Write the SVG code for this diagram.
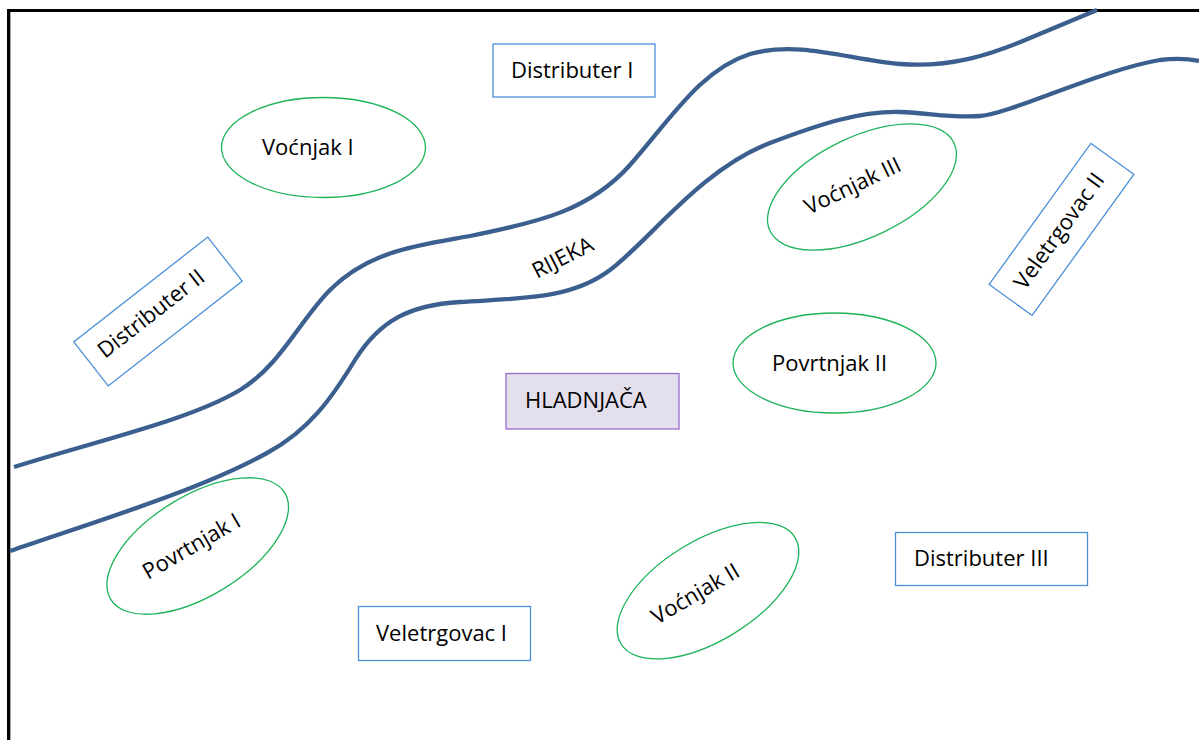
<svg xmlns="http://www.w3.org/2000/svg" width="1199" height="740" viewBox="0 0 1199 740">
<style>
text{font-family:"Open Sans","Liberation Sans",sans-serif;font-size:22px;fill:#000}
.box{fill:#fff;stroke:#4A90D9;stroke-width:1.3}
.ell{fill:none;stroke:#1DB35A;stroke-width:1.3}
.river{fill:none;stroke:#3B5F8E;stroke-width:4.3;stroke-linecap:butt}
</style>
<rect width="1199" height="740" fill="#fff"/>
<g id="frame">
<line x1="8.5" y1="9" x2="8.5" y2="740" stroke="#000" stroke-width="3"/>
<line x1="7" y1="10.5" x2="1199" y2="10.5" stroke="#000" stroke-width="3"/>
<line x1="10.5" y1="12" x2="10.5" y2="740" stroke="#aaa" stroke-width="1"/>
</g>
<g id="river">
<path class="river" d="M14,467 C100,440 190,420 240,390 C280,366 300,320 330,290 C370,250 420,245 470,236 C540,222 590,210 630,165 C670,120 700,70 750,54 C800,40 850,60 900,64 C950,68 990,55 1030,38 L1097,10"/>
<path class="river" d="M10,551 C100,520 200,490 267,453 C310,430 333,396 355,360 C380,320 410,305 460,302 C520,298 570,300 610,270 C650,240 700,170 770,143 C820,124 860,111 900,112 C930,113 950,118 980,116 C1010,114 1100,70 1160,60 C1175,58 1190,59 1199,61"/>
<text transform="translate(537,279) rotate(-27)">RIJEKA</text>
</g>
<g id="distributer-1">
<rect class="box" x="493" y="44" width="162" height="53"/>
<text x="511" y="78">Distributer I</text>
</g>
<g id="vocnjak-1">
<ellipse class="ell" cx="323.5" cy="147.5" rx="102" ry="50"/>
<text x="262" y="155">Voćnjak I</text>
</g>
<g id="distributer-2">
<rect class="box" x="-85" y="-28" width="170" height="56" transform="translate(158,311.5) rotate(-38)"/>
<text transform="translate(105,359) rotate(-38)">Distributer II</text>
</g>
<g id="vocnjak-3">
<ellipse class="ell" cx="0" cy="0" rx="102" ry="50" transform="translate(862,187) rotate(-25.6)"/>
<text transform="translate(809,215) rotate(-25.6)">Voćnjak III</text>
</g>
<g id="veletrgovac-2">
<rect class="box" x="-87" y="-26.5" width="174" height="53" transform="translate(1061.5,229.4) rotate(-54.2)"/>
<text transform="translate(1025,291) rotate(-54.2)">Veletrgovac II</text>
</g>
<g id="povrtnjak-2">
<ellipse class="ell" cx="834.5" cy="363" rx="101.5" ry="50"/>
<text x="772" y="371">Povrtnjak II</text>
</g>
<g id="hladnjaca">
<rect x="506" y="373.5" width="173" height="55.5" fill="#E4DFEC" stroke="#9A6CC8" stroke-width="1.3"/>
<text x="525" y="408">HLADNJAČA</text>
</g>
<g id="povrtnjak-1">
<ellipse class="ell" cx="0" cy="0" rx="102" ry="50" transform="translate(197.7,546) rotate(-31.5)"/>
<text transform="translate(148,580) rotate(-30)">Povrtnjak I</text>
</g>
<g id="vocnjak-2">
<ellipse class="ell" cx="0" cy="0" rx="102" ry="50" transform="translate(708,590.7) rotate(-31.5)"/>
<text transform="translate(657,625) rotate(-30.5)">Voćnjak II</text>
</g>
<g id="distributer-3">
<rect class="box" x="895.5" y="532.5" width="192" height="53"/>
<text x="914" y="566">Distributer III</text>
</g>
<g id="veletrgovac-1">
<rect class="box" x="358.5" y="606.5" width="172" height="54"/>
<text x="376" y="641">Veletrgovac I</text>
</g>
</svg>
